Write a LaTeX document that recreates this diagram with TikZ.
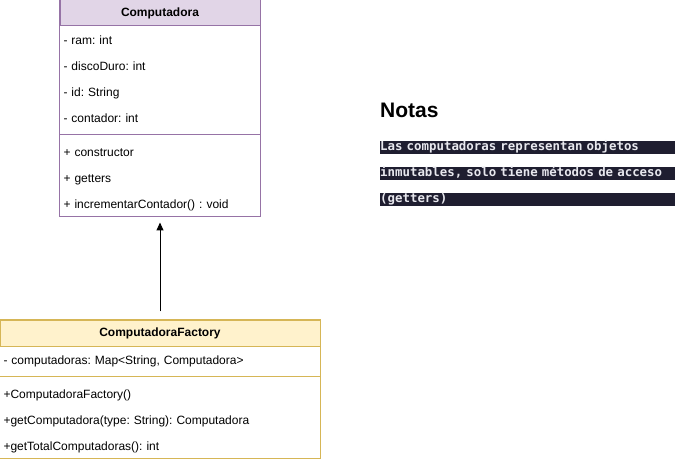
\documentclass[tikz,border=0pt]{standalone}
\usepackage{fontspec}
\setmainfont{Liberation Sans}
\setmonofont{DejaVu Sans Mono}
\usetikzlibrary{positioning,fit,arrows.meta}
\frenchspacing

\definecolor{compFill}{HTML}{E1D5E7}
\definecolor{compLine}{HTML}{9673A6}
\definecolor{factFill}{HTML}{FFF2CC}
\definecolor{factLine}{HTML}{D6B656}
\definecolor{noteBg}{HTML}{1F1E30}
\definecolor{noteFg}{HTML}{E8E8EE}

\tikzset{
  classhead/.style={draw, line width=1pt, minimum height=26pt, inner sep=0pt,
    font=\bfseries\fontsize{12}{14}\selectfont},
  member/.style={minimum height=26pt, inner xsep=4pt, inner ysep=0pt, outer sep=0pt,
    text height=11pt, text depth=1pt, align=left,
    font=\fontsize{12}{14}\selectfont},
  sepline/.style={minimum height=8pt, inner sep=0pt, outer sep=0pt},
  noteline/.style={fill=noteBg, text=noteFg, inner sep=0pt, minimum height=13pt,
    text width=295pt, text height=9.5pt, text depth=3pt, align=left,
    font=\ttfamily\bfseries\fontsize{12.4}{13}\selectfont},
}

\begin{document}
\begin{tikzpicture}[x=1pt, y=-1pt]

  \useasboundingbox (0,0) rectangle (696,462);

  % Computadora class
  \node[classhead, fill=compFill, draw=compLine, minimum width=200pt] (comp) at (160,13) {Computadora};
  \node[member, text width=192pt, below=0pt of comp.south west, anchor=north west] (ram) {- ram: int};
  \node[member, text width=192pt, below=0pt of ram]   (disco) {- discoDuro: int};
  \node[member, text width=192pt, below=0pt of disco] (id) {- id: String};
  \node[member, text width=192pt, below=0pt of id]    (contador) {- contador: int};
  \node[sepline, minimum width=200pt, below=0pt of contador] (compSep) {};
  \node[member, text width=192pt, below=0pt of compSep] (constructor) {+ constructor};
  \node[member, text width=192pt, below=0pt of constructor] (getters) {+ getters};
  \node[member, text width=192pt, below=0pt of getters] (incr) {+ incrementarContador() : void};
  \node[draw=compLine, line width=1pt, inner sep=0pt, outer sep=0pt, fit=(comp)(incr)] (compBox) {};
  \draw[compLine, line width=1pt] (compSep.west) -- (compSep.east);

  % ComputadoraFactory class
  \node[classhead, fill=factFill, draw=factLine, minimum width=320pt] (fact) at (160,333) {ComputadoraFactory};
  \node[member, text width=312pt, below=0pt of fact.south west, anchor=north west] (mapa) {- computadoras: Map<String, Computadora>};
  \node[sepline, minimum width=320pt, below=0pt of mapa] (factSep) {};
  \node[member, text width=312pt, below=0pt of factSep] (ctor) {+ComputadoraFactory()};
  \node[member, text width=312pt, below=0pt of ctor] (getComp) {+getComputadora(type: String): Computadora};
  \node[member, text width=312pt, below=0pt of getComp] (getTotal) {+getTotalComputadoras(): int};
  \node[draw=factLine, line width=1pt, inner sep=0pt, outer sep=0pt, fit=(fact)(getTotal)] (factBox) {};
  \draw[factLine, line width=1pt] (factSep.west) -- (factSep.east);

  % Connect the classes
  \draw[-{Triangle[length=8pt, width=7pt]}, line width=1pt, shorten <=8pt, shorten >=6pt]
    (fact.north) -- (compBox.south);

  % Notes
  \node[anchor=west, inner sep=0pt, font=\bfseries\fontsize{21}{24}\selectfont] (notas) at (380,110) {Notas};
  \node[noteline, anchor=north west] (note1) at (380,141) {Las computadoras representan objetos};
  \node[noteline, below=12.5pt of note1] (note2) {inmutables, solo tiene métodos de acceso};
  \node[noteline, below=12.5pt of note2] (note3) {(getters)};

\end{tikzpicture}
\end{document}
